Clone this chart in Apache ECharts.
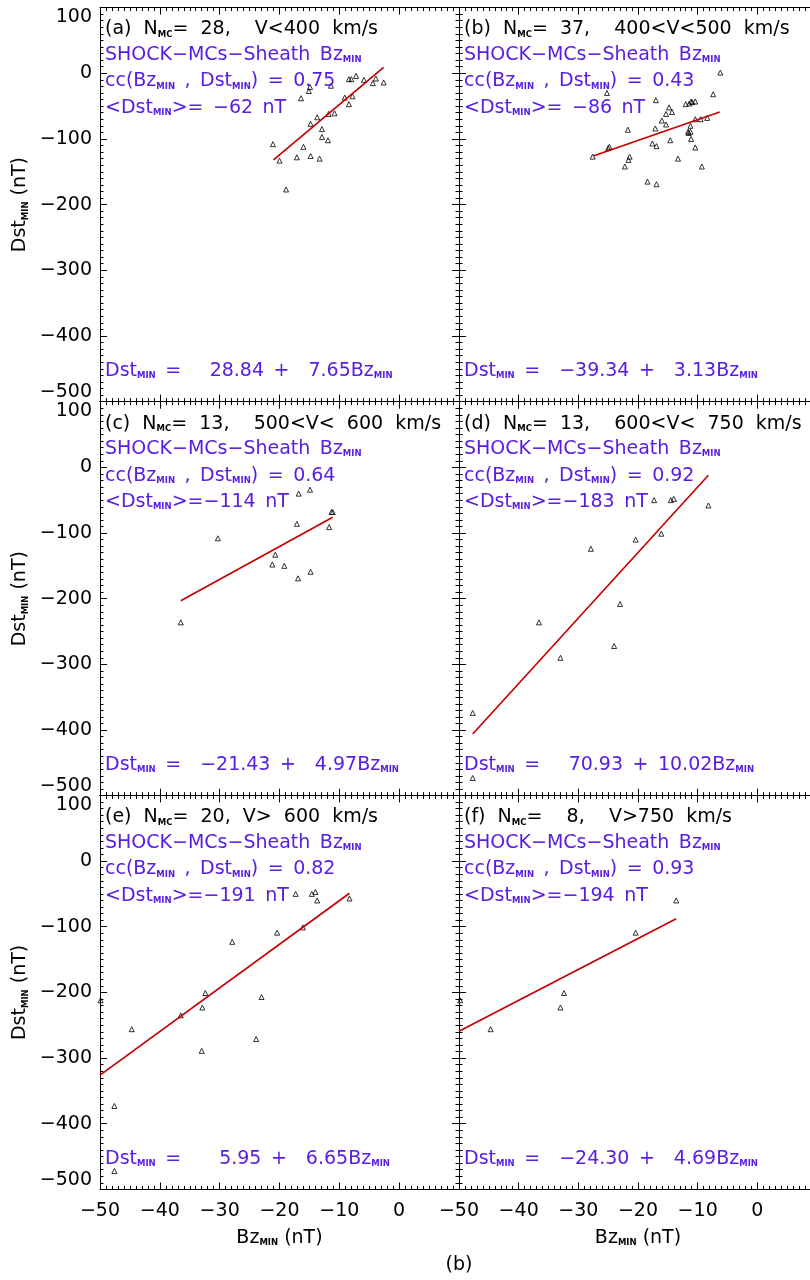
<!DOCTYPE html>
<html>
<head>
<meta charset="utf-8">
<script src="https://cdn.jsdelivr.net/npm/echarts@6/dist/echarts.min.js"></script>
<style>
  html, body { margin: 0; padding: 0; background: #fff; }
  #chart { width: 810px; height: 1280px; }
</style>
</head>
<body>
<div id="chart"></div>
<script>
// panel labels and fit results printed in each box
const panelTags = ['(a)', '(b)', '(c)', '(d)', '(e)', '(f)']
const nMC = [28, 37, 13, 13, 20, 8]
const speedRanges = ['V<400 km/s', '400<V<500 km/s', '500<V< 600 km/s', '600<V< 750 km/s', 'V> 600 km/s', 'V>750 km/s']
const titleGaps = ['  ', '  ', '  ', '  ', ' ', '  ']
const ccValues = ['0.75', '0.43', '0.64', '0.92', '0.82', '0.93']
const meanDst = [-62, -86, -114, -183, -191, -194]
const intercepts = ['28.84', '-39.34', '-21.43', '70.93', '5.95', '-24.30']
const slopes = ['7.65', '3.13', '4.97', '10.02', '6.65', '4.69']

// axis ticks
const xTicks = { min: -50, max: 10, interval: 10 }
const yTicks = { min: -500, max: 100, interval: 100 }

// scatter points [BzMIN, DstMIN]
const pointsA = [[-21.1, -108], [-20.0, -133], [-18.9, -177], [-17.1, -128], [-16.4, -38], [-16.0, -112], [-15.1, -27], [-14.9, -21], [-14.8, -77], [-14.8, -126], [-13.7, -67], [-13.3, -130], [-12.9, -85], [-12.9, -97], [-11.9, -102], [-11.8, -62], [-11.4, -19], [-10.8, -61], [-9.1, -37], [-8.4, -47], [-8.4, -9], [-8.0, -9], [-7.8, -35], [-7.2, -4], [-5.9, -10], [-4.4, -15], [-3.9, -8], [-2.6, -14]]
const pointsB = [[-27.6, -127], [-25.0, -114], [-24.8, -112], [-25.2, -30], [-22.2, -142], [-21.7, -86], [-21.6, -132], [-21.4, -127], [-18.4, -165], [-17.0, -41], [-17.1, -84], [-17.6, -107], [-16.9, -111], [-16.9, -169], [-16.0, -72], [-15.3, -62], [-15.3, -78], [-14.8, -52], [-14.3, -59], [-14.6, -102], [-13.3, -130], [-12.0, -47], [-11.4, -46], [-11.1, -43], [-10.9, -44], [-10.4, -43], [-11.5, -91], [-11.2, -89], [-11.6, -89], [-11.2, -80], [-11.1, -100], [-10.4, -113], [-10.4, -70], [-9.5, -70], [-9.3, -142], [-8.4, -68], [-7.4, -32], [-6.2, 1]]
const pointsC = [[-36.5, -236], [-30.3, -108], [-21.2, -148], [-20.7, -133], [-19.2, -150], [-17.1, -86], [-16.9, -169], [-16.8, -40], [-14.9, -34], [-14.8, -159], [-11.7, -91], [-11.3, -68], [-11.1, -68]]
const pointsD = [[-47.7, -374], [-47.7, -473], [-36.6, -236], [-33.0, -290], [-27.9, -124], [-24.0, -272], [-23.0, -208], [-20.4, -110], [-17.3, -50], [-16.1, -101], [-14.5, -50], [-14.0, -48], [-8.2, -58]]
const pointsE = [[-49.9, -212], [-47.6, -373], [-47.6, -472], [-44.7, -256], [-36.5, -235], [-33.0, -289], [-32.9, -223], [-32.4, -201], [-27.9, -123], [-23.9, -271], [-23.0, -207], [-20.4, -109], [-17.3, -50], [-16.1, -101], [-14.6, -50], [-14.0, -47], [-13.7, -60], [-8.3, -57]]
const pointsF = [[-49.8, -212], [-44.7, -256], [-33.0, -223], [-32.4, -201], [-20.4, -109], [-13.6, -60]]

// fitted lines, end points
const lineA = [[-21.0, -132], [-2.6, 9]]
const lineB = [[-27.5, -126], [-6.3, -59]]
const lineC = [[-36.5, -203], [-11.1, -76]]
const lineD = [[-47.7, -406], [-8.2, -12]]
const lineE = [[-50, -326], [-8.3, -49]]
const lineF = [[-50, -259], [-13.6, -88]]

const allPoints = [pointsA, pointsB, pointsC, pointsD, pointsE, pointsF]
const allLines = [lineA, lineB, lineC, lineD, lineE, lineF]

const FONT = 'DejaVu Sans'
const PURPLE = '#5a1ee3'
const RED = '#c40000'

const gridTops = [7.6, 401.7, 795.4]
const gridH = 394
const gridLefts = [100, 459]
const gridWidths = [359, 358]

const minus = s => String(s).replace(/-/g, '\u2212')
const pad = (s, n) => minus(s).padStart(n, ' ')
// the original plotting font has wide blanks
const figSp = s => s.replace(/ /g, '\u2007')
const enSp = s => s.replace(/ /g, '\u2002')

const richSet = color => ({
  m: { fontSize: 19, fontFamily: FONT, fill: color, lineHeight: 22, verticalAlign: 'bottom' },
  s: { fontSize: 8.5, fontFamily: FONT, fontWeight: 'bold', fill: color, lineHeight: 10, verticalAlign: 'bottom' }
})

const textEl = (x, y, text, color) => ({
  type: 'text',
  x: x,
  y: y,
  z: 100,
  silent: true,
  style: { text: text, rich: richSet(color), fill: color, align: 'left', verticalAlign: 'middle' }
})

const axisRich = {
  m: { fontSize: 19, fontFamily: FONT, color: '#000', lineHeight: 22, verticalAlign: 'bottom' },
  s: { fontSize: 8.5, fontFamily: FONT, fontWeight: 'bold', color: '#000', lineHeight: 10, verticalAlign: 'bottom' }
}

const baseAxis = {
  type: 'value',
  axisLine: { show: true, onZero: false, lineStyle: { color: '#000', width: 1 } },
  axisTick: { show: true, inside: true, length: 7, lineStyle: { color: '#000', width: 1 } },
  minorTick: { show: true, splitNumber: 10, length: 3.5, lineStyle: { color: '#000', width: 1 } },
  splitLine: { show: false }
}

const grids = []
const xAxes = []
const yAxes = []
const series = []
const texts = []

for (let i = 0; i < 6; i++) {
  const col = i % 2
  const row = Math.floor(i / 2)
  const top = gridTops[row]
  const left = gridLefts[col]
  grids.push({ left: left, top: top, width: gridWidths[col], height: gridH, outerBoundsMode: 'none' })

  const showX = row === 2
  const showY = col === 0
  xAxes.push(Object.assign({}, baseAxis, xTicks, {
    gridIndex: i, position: 'bottom',
    axisLabel: {
      show: showX, showMaxLabel: false, margin: 12,
      fontSize: 19, fontFamily: FONT, color: '#000', formatter: v => minus(v)
    },
    name: showX ? '{m|Bz}{s|MIN}{m| (nT)}' : '',
    nameLocation: 'middle', nameGap: 36,
    nameTextStyle: { rich: axisRich }
  }))
  xAxes.push(Object.assign({}, baseAxis, xTicks, {
    gridIndex: i, position: 'top', axisLabel: { show: false }
  }))
  yAxes.push(Object.assign({}, baseAxis, yTicks, {
    gridIndex: i, position: 'left',
    axisLabel: {
      show: showY, margin: 8,
      fontSize: 19, fontFamily: FONT, color: '#000', formatter: v => minus(v),
      verticalAlignMaxLabel: 'top', verticalAlignMinLabel: 'bottom'
    },
    name: showY ? '{m|Dst}{s|MIN}{m| (nT)}' : '',
    nameLocation: 'middle', nameGap: 70,
    nameTextStyle: { rich: axisRich }
  }))
  yAxes.push(Object.assign({}, baseAxis, yTicks, {
    gridIndex: i, position: 'right', axisLabel: { show: false }
  }))

  series.push({
    type: 'scatter',
    xAxisIndex: 2 * i, yAxisIndex: 2 * i,
    symbol: 'triangle', symbolSize: 5,
    itemStyle: { color: 'transparent', borderColor: '#000', borderWidth: 1 },
    data: allPoints[i],
    z: 3
  })
  series.push({
    type: 'line',
    xAxisIndex: 2 * i, yAxisIndex: 2 * i,
    symbol: 'none',
    lineStyle: { color: RED, width: 1.7 },
    data: allLines[i],
    z: 4
  })

  const tx = left + 5
  const n = String(nMC[i]).padStart(2, ' ')
  texts.push(textEl(tx, top + 20.4,
    `{m|${figSp(panelTags[i] + ' N')}}{s|MC}{m|${figSp('= ' + n + ',' + titleGaps[i] + speedRanges[i])}}`, '#000'))
  texts.push(textEl(tx, top + 45.7, `{m|${enSp('SHOCK\u2212MCs\u2212Sheath Bz')}}{s|MIN}`, PURPLE))
  texts.push(textEl(tx, top + 72.4,
    `{m|cc(Bz}{s|MIN}{m|${enSp(' , Dst')}}{s|MIN}{m|${enSp(') = ' + ccValues[i])}}`, PURPLE))
  texts.push(textEl(tx, top + 99,
    `{m|<Dst}{s|MIN}{m|${enSp('>=' + pad(meanDst[i], 4) + ' nT')}}`, PURPLE))
  texts.push(textEl(tx, top + 362,
    `{m|Dst}{s|MIN}{m|${enSp(' = ' + pad(intercepts[i], 7) + ' + ' + pad(slopes[i], 5))}Bz}{s|MIN}`, PURPLE))
}

texts.push({
  type: 'text', x: 459, y: 1265, z: 100, silent: true,
  style: { text: '(b)', fontSize: 19, fontFamily: FONT, fill: '#000', align: 'center', verticalAlign: 'middle' }
})

const chart = echarts.init(document.getElementById('chart'), null, { renderer: 'canvas' })
chart.setOption({
  animation: false,
  backgroundColor: '#fff',
  grid: grids,
  xAxis: xAxes,
  yAxis: yAxes,
  series: series,
  graphic: { elements: texts }
})
</script>
</body>
</html>
